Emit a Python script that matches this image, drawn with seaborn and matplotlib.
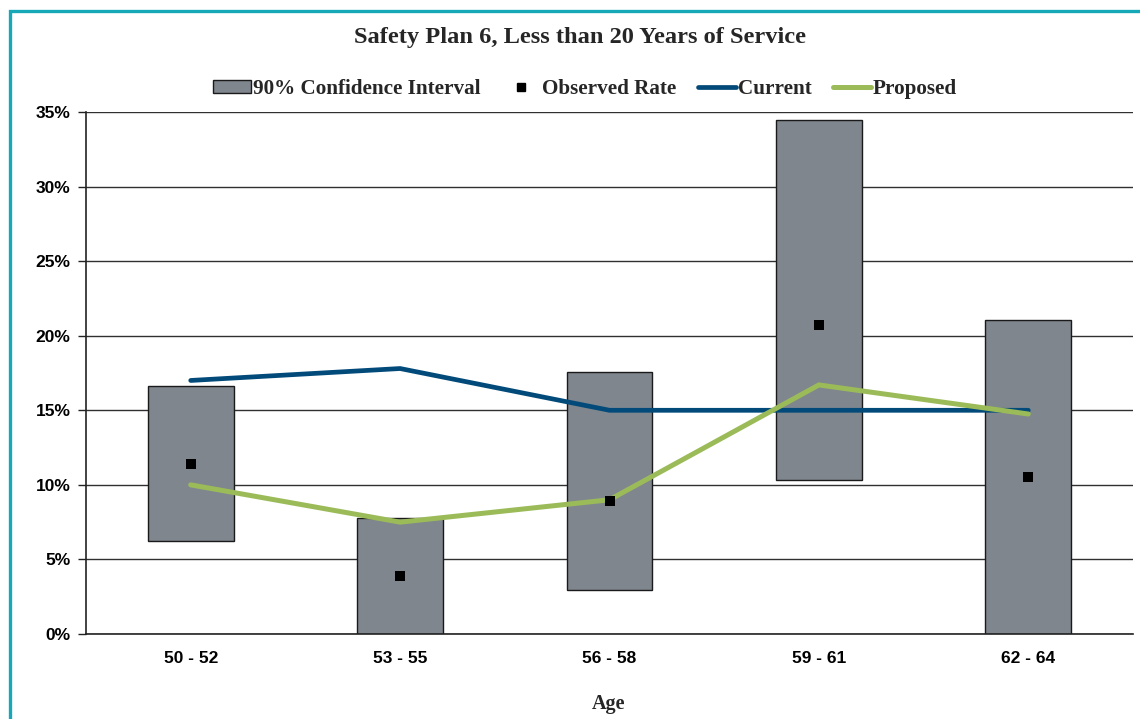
import numpy as np
import pandas as pd
import matplotlib
matplotlib.use("Agg")
import matplotlib.pyplot as plt
from matplotlib.patches import Patch, Rectangle
from matplotlib.lines import Line2D
from matplotlib.ticker import FuncFormatter, FixedLocator
from matplotlib.font_manager import FontProperties
import seaborn as sns

# Age bands and rates (fractions)
age_groups = ["50 - 52", "53 - 55", "56 - 58", "59 - 61", "62 - 64"]
ci_low = [0.0624, 0.0, 0.0295, 0.1033, 0.0]
ci_high = [0.1663, 0.0778, 0.1757, 0.3446, 0.2105]
observed_rate = [0.114, 0.039, 0.089, 0.207, 0.105]
current_rate = [0.170, 0.178, 0.150, 0.150, 0.150]
proposed_rate = [0.100, 0.075, 0.090, 0.167, 0.1475]

bar_color = "#7F868E"
current_color = "#024A79"
proposed_color = "#9BBB59"
border_color = "#17A8B8"

sns.set_theme(style="white")
plt.rcParams["font.family"] = ["Liberation Sans", "DejaVu Sans"]

df = pd.DataFrame({
    "age": age_groups,
    "low": ci_low,
    "high": ci_high,
    "span": np.array(ci_high) - np.array(ci_low),
    "observed": observed_rate,
    "current": current_rate,
    "proposed": proposed_rate,
})
df["pos"] = np.arange(len(df))

fig = plt.figure(figsize=(11.4, 7.19), dpi=100)
ax = fig.add_axes([86 / 1140, 1 - 634 / 719, (1133 - 86) / 1140, (634 - 112) / 719])

# Horizontal gridlines behind the marks
ax.set_axisbelow(True)
ax.yaxis.grid(True, color="#303030", linewidth=1.0)
ax.xaxis.grid(False)

# Confidence interval boxes
sns.barplot(data=df, x="age", y="span", order=age_groups, bottom=df["low"].to_numpy(),
            color=bar_color, saturation=1, width=0.41, errorbar=None,
            edgecolor="#1a1a1a", linewidth=1.0, ax=ax, zorder=2)

# Assumption lines
sns.lineplot(data=df, x="pos", y="current", color=current_color, linewidth=3.4,
             sort=False, estimator=None, ax=ax, zorder=3,
             solid_capstyle="round", solid_joinstyle="miter")
sns.lineplot(data=df, x="pos", y="proposed", color=proposed_color, linewidth=3.6,
             sort=False, estimator=None, ax=ax, zorder=4,
             solid_capstyle="round", solid_joinstyle="miter")

# Observed rates
sns.scatterplot(data=df, x="pos", y="observed", marker="s", color="black", s=45,
                linewidth=0, ax=ax, zorder=5)

ax.set_xlim(-0.5, len(age_groups) - 0.5)
ax.set_ylim(0, 0.35)
ax.yaxis.set_major_locator(FixedLocator(np.arange(0, 0.351, 0.05)))
ax.yaxis.set_major_formatter(FuncFormatter(lambda v, _: f"{v * 100:.0f}%"))

ax.set_xticks(np.arange(len(age_groups)))
ax.set_xticklabels(age_groups)
ax.set_xticks(np.arange(-0.5, len(age_groups)), minor=True)
ax.tick_params(axis="x", which="major", length=0, pad=12, labelsize=12.5)
ax.tick_params(axis="x", which="minor", length=6, width=1, color="#222222", direction="out")
ax.tick_params(axis="y", which="major", length=6, width=1, color="#222222", direction="out",
               pad=5, labelsize=12.5)
ax.tick_params(axis="both", bottom=True, left=True)
for lbl in ax.get_xticklabels() + ax.get_yticklabels():
    lbl.set_fontweight("bold")
    lbl.set_color("black")

for side in ["top", "right"]:
    ax.spines[side].set_visible(False)
for side in ["left", "bottom"]:
    ax.spines[side].set_visible(True)
    ax.spines[side].set_color("#222222")
    ax.spines[side].set_linewidth(1.2)

ax.set_xlabel("")
ax.set_ylabel("")

serif = ["Liberation Serif", "DejaVu Serif"]
title_font = FontProperties(family=serif, weight="bold", size=17.6)
fig.text(580 / 1140, 1 - 38 / 719, "Safety Plan 6, Less than 20 Years of Service",
         ha="center", va="center", fontproperties=title_font)
fig.text(609 / 1140, 1 - 704 / 719, "Age", ha="center", va="center",
         fontproperties=FontProperties(family=serif, weight="bold", size=14.5))

handles = [
    Patch(facecolor=bar_color, edgecolor="#1a1a1a", linewidth=1.0),
    Line2D([], [], linestyle="none", marker="s", color="black", markersize=6),
    Line2D([], [], color=current_color, linewidth=3.4, solid_capstyle="round"),
    Line2D([], [], color=proposed_color, linewidth=3.6, solid_capstyle="round"),
]
labels = ["90% Confidence Interval", "Observed Rate", "Current", "Proposed"]
fig.legend(handles, labels, loc="center", bbox_to_anchor=(585 / 1140, 1 - 89 / 719),
           ncol=4, frameon=False,
           prop=FontProperties(family=serif, weight="bold", size=15.2),
           handlelength=1.8, handleheight=0.55, handletextpad=0.1, columnspacing=1.0)

# Frame around the chart
fig.patches.append(Rectangle((10.5 / 1140, -0.1), 1.2, 1 - 11.5 / 719 + 0.1,
                             transform=fig.transFigure, fill=False,
                             edgecolor=border_color, linewidth=2.4, zorder=10))

fig.savefig("out.png", dpi=100)
